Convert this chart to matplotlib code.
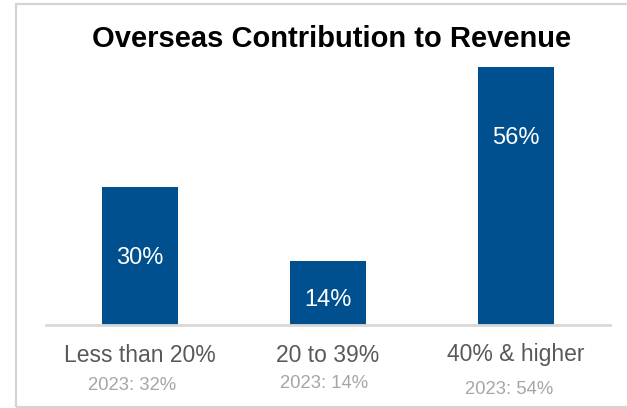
import matplotlib.pyplot as plt
from matplotlib.patches import Rectangle

plt.rcParams['font.family'] = ['Liberation Sans', 'DejaVu Sans']

categories = ['Less than 20%', '20 to 39%', '40% & higher']
share_2024 = [30, 14, 56]
share_2023 = [32, 14, 54]

# layout of the "2023" notes in pixels (they sit a little off-centre)
sub_dx = [-8, -3.5, -7]
sub_y = [385.5, 384, 390]

W, H = 627, 408
fig = plt.figure(figsize=(W / 100, H / 100), dpi=100)

# light frame around the panel (right side runs off the image)
fig.patches.append(Rectangle((16 / W, 1 - 407 / H), 1.0, (407 - 4) / H,
                             transform=fig.transFigure, fill=False,
                             edgecolor='#D4D4D4', linewidth=1.6))

ax = fig.add_axes([46 / W, 1 - 325 / H, (610 - 46) / W, (325 - 60) / H])
x = list(range(len(categories)))
ax.bar(x, share_2024, width=76 / 188, color='#00508F')
ax.set_xlim(-0.5, 2.5)
ax.set_ylim(0, 265 / 4.607)

for i, v in enumerate(share_2024):
    ax.text(i, max(v - 15.4, v * 0.39), f'{v}%', ha='center', va='center',
            color='white', fontsize=17)

for s in ['top', 'right', 'left']:
    ax.spines[s].set_visible(False)
ax.spines['bottom'].set_color('#D9D9D9')
ax.spines['bottom'].set_linewidth(2)
ax.set_xticks([])
ax.set_yticks([])

for i, (c, old) in enumerate(zip(categories, share_2023)):
    px = ax.transData.transform((i, 0))[0]
    fig.text(px / W, 1 - 355 / H, c, ha='center', va='center',
             color='#595959', fontsize=16.5)
    fig.text((px + sub_dx[i]) / W, 1 - sub_y[i] / H, f'2023: {old}%',
             ha='center', va='center', color='#A6A6A6', fontsize=13.3)

fig.text(332 / W, 1 - 39 / H, 'Overseas Contribution to Revenue',
         ha='center', va='center', fontsize=21, fontweight='bold', color='black')

fig.savefig('out.png', dpi=100)
